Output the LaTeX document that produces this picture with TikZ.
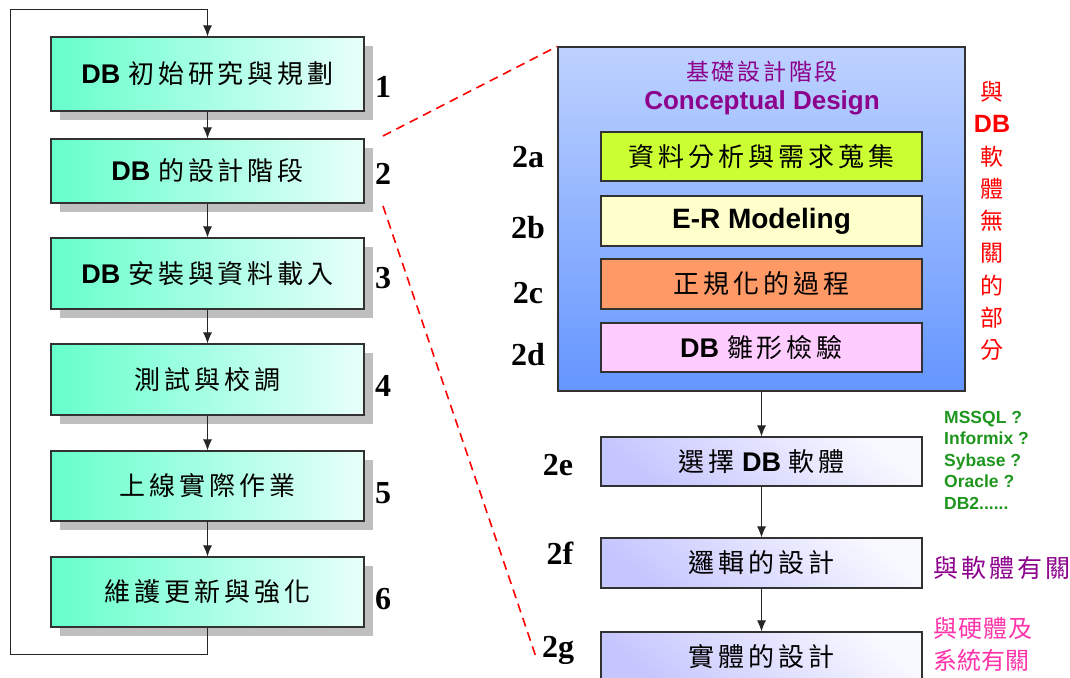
\documentclass[tikz,border=0pt]{standalone}
\usepackage{fontspec}
\usetikzlibrary{arrows.meta,shadows}
\newfontfamily\cjk[LetterSpace=15]{Noto Sans CJK TC}
\newfontfamily\cjkv{Noto Sans CJK TC}
\newfontfamily\arialf{Liberation Sans}
\newfontfamily\timesf{Liberation Serif}
\newcommand\fsz[2]{\fontsize{#1pt}{#2pt}\selectfont}
\newcommand\DBt{{\arialf\bfseries\fsz{27}{30}DB}}
\definecolor{aqL}{RGB}{102,255,204}
\definecolor{aqR}{RGB}{232,255,250}
\definecolor{shadowgray}{RGB}{191,191,191}
\definecolor{bluetop}{RGB}{190,210,255}
\definecolor{bluebot}{RGB}{100,150,255}
\definecolor{limec}{RGB}{204,255,51}
\definecolor{palec}{RGB}{255,255,204}
\definecolor{orangec}{RGB}{255,153,102}
\definecolor{pinkc}{RGB}{255,204,255}
\definecolor{lavc}{RGB}{198,198,255}
\definecolor{lavt}{RGB}{248,248,255}
\definecolor{purpc}{RGB}{140,0,140}
\definecolor{pinkt}{RGB}{255,51,170}
\definecolor{greent}{RGB}{30,150,30}
\definecolor{edge}{RGB}{50,50,50}
\tikzset{
  lbox/.style={draw=edge, line width=1.1pt, minimum width=313pt, inner sep=0pt,
    left color=aqL, right color=aqR,
    drop shadow={shadow xshift=9pt, shadow yshift=-9pt, fill=shadowgray, opacity=1},
    font=\fsz{26}{30}},
  ibox/.style={draw=edge, line width=1.1pt, minimum width=321pt, inner sep=0pt, font=\fsz{26}{30}},
  rbox/.style={draw=edge, line width=1.1pt, minimum width=321pt, inner sep=0pt, font=\fsz{26}{30},
    top color=lavt, bottom color=lavc, shading angle=-40},
  numlab/.style={font=\timesf\bfseries\fsz{32}{36}, inner sep=0pt},
  conn/.style={draw=black!85, line width=1pt},
  arr/.style={conn, -{Latex[length=11pt,width=9pt]}},
  reddash/.style={draw=red, line width=1.6pt, dash pattern=on 9pt off 6pt},
}
\begin{document}
\begin{tikzpicture}[x=1pt,y=-1pt]
\useasboundingbox (0,0) rectangle (1070,677);
% left column
\node[lbox, minimum height=74pt] (B1) at (207.5,74) {\DBt\ {\cjk 初始研究與規劃}};
\node[lbox, minimum height=64pt] (B2) at (207.5,171) {\DBt\ {\cjk 的設計階段}};
\node[lbox, minimum height=71pt] (B3) at (207.5,273.5) {\DBt\ {\cjk 安裝與資料載入}};
\node[lbox, minimum height=71pt] (B4) at (207.5,379.5) {\cjk 測試與校調};
\node[lbox, minimum height=70pt] (B5) at (207.5,486) {\cjk 上線實際作業};
\node[lbox, minimum height=70pt] (B6) at (207.5,592) {\cjk 維護更新與強化};
\node[numlab] (n1) at (383,87) {1};
\node[numlab] (n2) at (383,174) {2};
\node[numlab] (n3) at (383,278) {3};
\node[numlab] (n4) at (383,386) {4};
\node[numlab] (n5) at (383,493) {5};
\node[numlab] (n6) at (383,599) {6};
\draw[arr] (B1) -- (B2);
\draw[arr] (B2) -- (B3);
\draw[arr] (B3) -- (B4);
\draw[arr] (B4) -- (B5);
\draw[arr] (B5) -- (B6);
\coordinate (lb) at (10,654);
\coordinate (lt) at (10,10);
\draw[arr] (B6.south) |- (lb) -- (lt) -| (B1.north);
% big box
\node[draw=edge, line width=1.3pt, minimum width=407pt, minimum height=344pt, inner sep=0pt,
  top color=bluetop, bottom color=bluebot] (BIG) at (761.5,219) {};
\node[text=purpc, font=\cjkv\fsz{23}{26}, inner sep=0pt] (t1) at (762,72) {\addfontfeature{LetterSpace=12}基礎設計階段};
\node[text=purpc, font=\arialf\bfseries\fsz{26}{30}, inner sep=0pt] (t2) at (762,103) {Conceptual Design};
\node[ibox, fill=limec, minimum height=49pt] (A) at (761.5,156.5) {\cjk 資料分析與需求蒐集};
\node[ibox, fill=palec, minimum height=50pt] (Bb) at (761.5,221) {\arialf\bfseries\fsz{28}{30}E-R Modeling};
\node[ibox, fill=orangec, minimum height=50pt] (C) at (761.5,284) {\cjk 正規化的過程};
\node[ibox, fill=pinkc, minimum height=49pt] (D) at (761.5,347.5) {\DBt\ {\cjk 雛形檢驗}};
\node[numlab] (l2a) at (528,157) {2a};
\node[numlab] (l2b) at (528,228) {2b};
\node[numlab] (l2c) at (528,293) {2c};
\node[numlab] (l2d) at (528,355) {2d};
% red vertical text
\node[text=red, font=\cjkv\fsz{23}{32.3}, align=center, inner sep=0pt] (rv) at (992,221)
  {與\\{\arialf\bfseries\fsz{25}{32.3}DB}\\軟\\體\\無\\關\\的\\部\\分};
% lower column
\node[rbox, minimum height=49pt] (E) at (761.5,461.5) {{\cjk 選擇}\ \DBt\ {\cjk 軟體}};
\node[rbox, minimum height=50pt] (F) at (761.5,563) {\cjk 邏輯的設計};
\node[rbox, minimum height=50pt] (G) at (761.5,657) {\cjk 實體的設計};
\node[numlab] (l2e) at (558,465) {2e};
\node[numlab] (l2f) at (560,553) {2f};
\node[numlab] (l2g) at (558,650) {2g};
\draw[arr] (BIG.south) -- (E.north);
\draw[arr] (E) -- (F);
\draw[arr] (F) -- (G);
\node[text=greent, font=\arialf\bfseries\fsz{17.5}{21.5}, align=left, anchor=north west, inner sep=0pt] (gl) at (944,411)
  {MSSQL ?\\Informix ?\\Sybase ?\\Oracle ?\\DB2......};
\node[text=purpc, font=\cjkv\fsz{25}{30}, anchor=west, inner sep=0pt] (pl) at (933,568) {\addfontfeature{LetterSpace=12}與軟體有關};
\node[text=pinkt, font=\cjkv\fsz{24}{32}, align=left, anchor=west, inner sep=0pt] (kl) at (933,644) {\addfontfeature{LetterSpace=5}與硬體及\\系統有關};
% red dashed zoom lines
\coordinate (d1) at (383,136);
\coordinate (d2) at (383,206);
\coordinate (d3) at (536,657);
\draw[reddash] (d1) -- (BIG.north west);
\draw[reddash] (d2) -- (d3);
\end{tikzpicture}
\end{document}
